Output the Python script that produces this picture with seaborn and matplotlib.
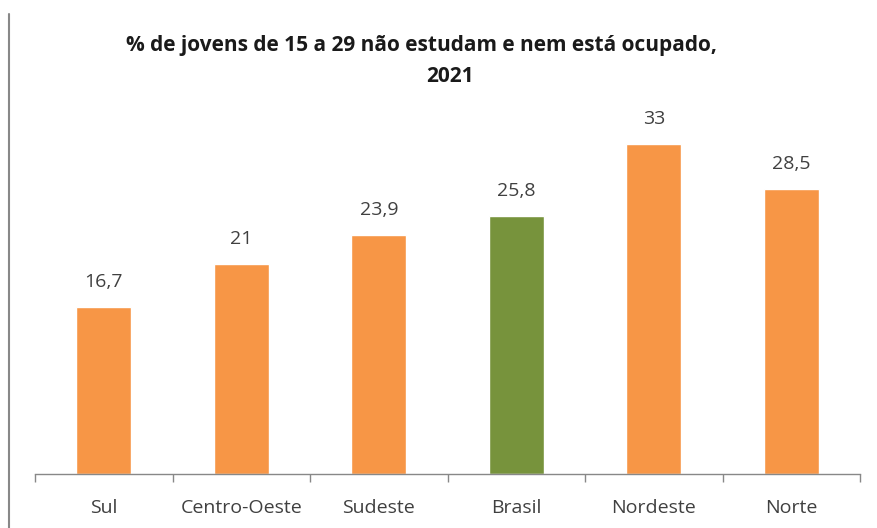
import numpy as np
import pandas as pd
import seaborn as sns
import matplotlib.pyplot as plt
from matplotlib.lines import Line2D

regioes = ["Sul", "Centro-Oeste", "Sudeste", "Brasil", "Nordeste", "Norte"]
valores = [16.7, 21, 23.9, 25.8, 33, 28.5]
rotulos = ["16,7", "21", "23,9", "25,8", "33", "28,5"]
cores = ["#F79646", "#F79646", "#F79646", "#77933C", "#F79646", "#F79646"]

titulo_linha1 = "% de jovens de 15 a 29 não estudam e nem está ocupado,"
titulo_linha2 = "2021"


def main():
    sns.set_theme(style="white")
    plt.rcParams["font.family"] = ["Open Sans", "DejaVu Sans"]

    df = pd.DataFrame({"regiao": regioes, "valor": valores})

    fig = plt.figure(figsize=(8.77, 5.28), dpi=100)
    ax = fig.add_axes([0.040, 0.1023, 0.9407, 0.7576])
    sns.barplot(data=df, x="regiao", y="valor", hue="regiao", palette=cores,
                width=0.4, legend=False, ax=ax, saturation=1)

    for i, (v, r) in enumerate(zip(valores, rotulos)):
        ax.text(i, v + 1.6, r, ha="center", va="bottom", fontsize=14, color="#404040")

    ax.set_xlim(-0.5, 5.5)
    ax.set_ylim(0, 40)
    ax.set_xlabel("")
    ax.set_ylabel("")
    ax.set_yticks([])
    for s in ["top", "right", "left"]:
        ax.spines[s].set_visible(False)
    ax.spines["bottom"].set_color("#888888")
    ax.spines["bottom"].set_linewidth(1)

    ax.set_xticks(np.arange(-0.5, 6, 1), minor=True)
    ax.tick_params(axis="x", which="minor", length=6, color="#888888", width=1, direction="out", bottom=True)
    ax.tick_params(axis="x", which="major", length=0, pad=18, labelsize=14, labelcolor="#404040")

    # duas linhas separadas: no original a segunda linha fica um pouco à direita
    fig.text(421 / 877, 1 - 45 / 528, titulo_linha1, ha="center", va="center", fontsize=15,
             fontweight="bold", color="#1a1a1a")
    fig.text(450 / 877, 1 - 76 / 528, titulo_linha2, ha="center", va="center", fontsize=15,
             fontweight="bold", color="#1a1a1a")

    fig.add_artist(Line2D([0.0103, 0.0103], [0.0, 0.973], color="#888888", linewidth=1.5))

    fig.savefig("out.png", dpi=100, facecolor="white")


if __name__ == "__main__":
    main()
